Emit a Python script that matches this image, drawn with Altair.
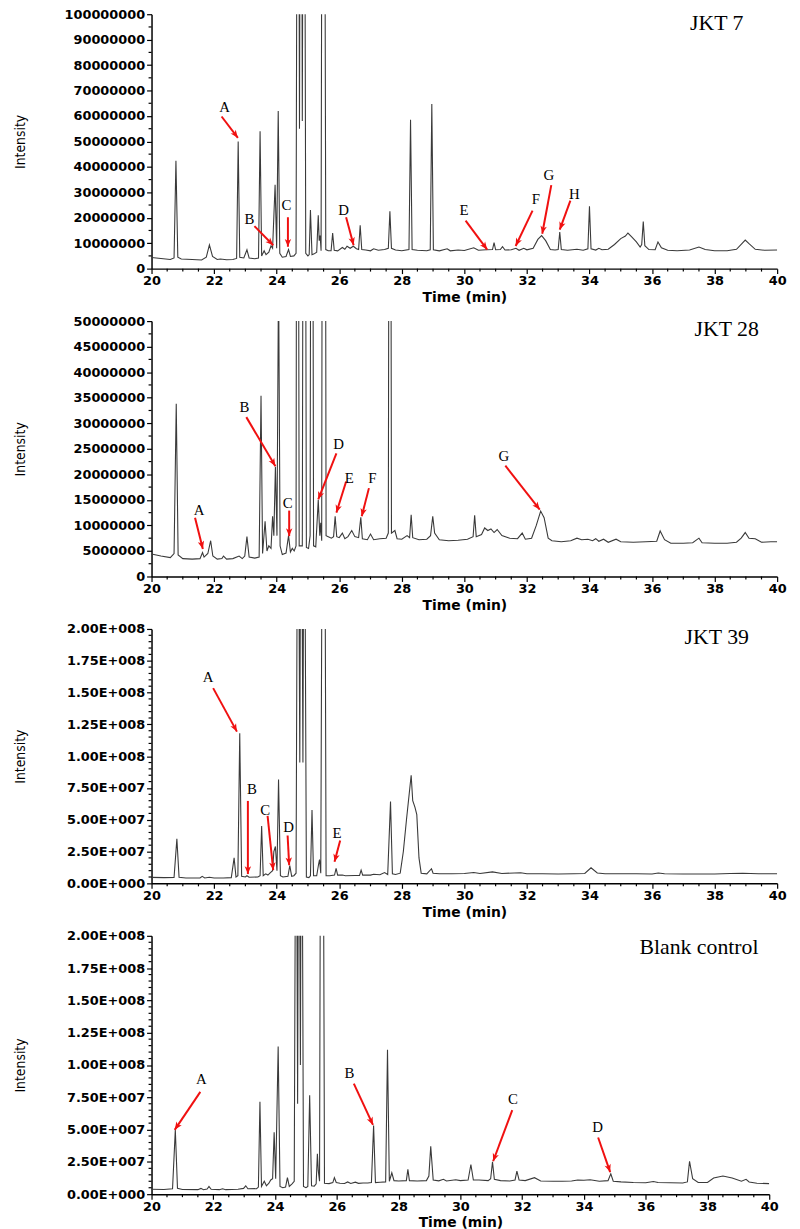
import math
import altair as alt
import pandas as pd

# ---------------- JKT 7 (intensity in millions) ----------------
T1 = [20.00, 20.30, 20.60, 20.72, 20.78, 20.84, 20.95, 21.30, 21.60, 21.75, 21.85, 21.95, 22.10, 22.20, 22.40,
      22.60, 22.72, 22.77, 22.82, 22.95, 23.05, 23.12, 23.30, 23.42, 23.47, 23.52, 23.60, 23.66, 23.75, 23.82,
      23.87, 23.95, 24.00, 24.05, 24.10, 24.18, 24.30, 24.38, 24.44, 24.55, 24.62, 24.68, 24.73, 24.78, 24.82,
      24.87, 24.93, 25.00, 25.04, 25.08, 25.13, 25.20, 25.28, 25.33, 25.36, 25.39, 25.42, 25.47, 25.52, 25.57,
      25.65, 25.74, 25.79, 25.84, 25.95, 26.10, 26.18, 26.25, 26.35, 26.45, 26.55, 26.62, 26.67, 26.72, 26.85,
      27.00, 27.10, 27.25, 27.45, 27.57, 27.62, 27.67, 27.80, 28.00, 28.23, 28.28, 28.33, 28.50, 28.80, 28.91,
      28.96, 29.01, 29.20, 29.45, 29.55, 29.80, 30.00, 30.30, 30.45, 30.70, 30.90, 30.95, 31.00, 31.15, 31.22,
      31.30, 31.50, 31.65, 31.75, 31.90, 32.00, 32.20, 32.35, 32.47, 32.60, 32.75, 32.90, 33.00, 33.05, 33.10,
      33.30, 33.60, 33.80, 33.95, 34.00, 34.05, 34.20, 34.30, 34.40, 34.60, 34.80, 35.00, 35.15, 35.23, 35.35,
      35.50, 35.62, 35.67, 35.72, 35.77, 35.90, 36.10, 36.19, 36.30, 36.50, 36.80, 37.20, 37.50, 37.70, 38.00,
      38.40, 38.70, 38.85, 38.98, 39.10, 39.30, 39.60, 40.00]
I1 = [4.4, 4.0, 3.6, 4.2, 42.4, 4.5, 3.8, 3.6, 3.4, 4.5, 9.3, 4.8, 3.6, 3.8, 3.5,
      3.6, 4.0, 50.0, 4.5, 4.2, 7.4, 4.2, 3.9, 4.2, 54.0, 5.0, 7.0, 5.5, 6.5, 9.0,
      8.0, 33.0, 8.0, 62.0, 6.0, 4.5, 4.8, 7.5, 4.8, 5.0, 6.0, 300, 55, 300, 58,
      300, 6.0, 5.0, 5.5, 23.0, 5.5, 5.8, 6.5, 21.0, 11.0, 13.0, 7.0, 300, 250, 7.5,
      7.0, 7.0, 14.0, 7.2, 7.0, 8.3, 7.6, 8.8, 8.0, 8.8, 7.8, 7.5, 17.0, 7.5, 7.3,
      7.0, 7.8, 7.2, 7.5, 8.0, 22.5, 8.0, 7.3, 7.0, 7.5, 58.5, 7.5, 7.2, 7.0, 7.4,
      64.7, 7.4, 7.0, 7.8, 7.0, 7.3, 7.1, 8.2, 7.2, 7.4, 7.5, 10.2, 7.4, 7.5, 8.6,
      7.3, 7.4, 8.0, 7.2, 8.0, 7.4, 8.0, 11.5, 13.0, 11.0, 7.5, 7.3, 7.5, 14.4, 7.5,
      7.2, 7.6, 7.2, 7.8, 24.5, 7.8, 7.3, 8.0, 7.4, 7.6, 9.5, 11.8, 12.8, 14.0, 12.5,
      10.5, 8.5, 9.5, 18.5, 9.0, 7.5, 7.4, 10.5, 8.2, 7.2, 7.0, 7.3, 8.5, 7.5, 7.0,
      7.0, 7.6, 9.5, 11.2, 9.8, 7.6, 7.2, 7.3]
L1 = ["A", "B", "C", "D", "E", "F", "G", "H"]
L1_lab_t = [22.34, 23.13, 24.31, 26.14, 29.99, 32.29, 32.70, 33.52]
L1_lab_i = [63.7, 19.6, 25.0, 23.2, 23.2, 27.4, 36.7, 29.3]
L1_tail_t = [22.24, 23.29, 24.36, 26.22, 30.04, 32.18, 32.78, 33.39]
L1_tail_i = [59.8, 16.7, 20.2, 20.2, 18.9, 22.8, 32.8, 26.7]
L1_tip_t = [22.76, 23.89, 24.36, 26.46, 30.73, 31.64, 32.49, 33.05]
L1_tip_i = [51.4, 9.2, 8.6, 9.2, 7.5, 8.9, 13.7, 15.3]

# ---------------- JKT 28 ----------------
T2 = [20.00, 20.30, 20.60, 20.72, 20.79, 20.85, 21.00, 21.30, 21.55, 21.63, 21.68, 21.80, 21.89, 21.96, 22.10,
      22.25, 22.30, 22.40, 22.60, 22.80, 22.90, 22.98, 23.05, 23.12, 23.30, 23.44, 23.50, 23.55, 23.63, 23.69,
      23.75, 23.82, 23.87, 23.91, 23.96, 24.01, 24.06, 24.11, 24.18, 24.30, 24.38, 24.44, 24.50, 24.56, 24.62,
      24.66, 24.72, 24.82, 24.88, 24.95, 25.02, 25.07, 25.12, 25.18, 25.25, 25.33, 25.38, 25.41, 25.44, 25.48,
      25.53, 25.58, 25.65, 25.75, 25.82, 25.87, 25.92, 26.00, 26.10, 26.18, 26.28, 26.40, 26.50, 26.62, 26.69,
      26.74, 26.90, 27.00, 27.10, 27.30, 27.50, 27.57, 27.62, 27.67, 27.78, 27.85, 28.00, 28.17, 28.25, 28.30,
      28.35, 28.55, 28.80, 28.92, 28.99, 29.05, 29.20, 29.50, 29.80, 30.10, 30.28, 30.33, 30.38, 30.55, 30.65,
      30.75, 30.85, 30.95, 31.05, 31.20, 31.45, 31.70, 31.85, 31.95, 32.15, 32.30, 32.44, 32.55, 32.68, 32.80,
      33.10, 33.40, 33.60, 33.75, 33.95, 34.10, 34.20, 34.30, 34.45, 34.60, 34.85, 35.00, 35.40, 35.80, 36.15,
      36.26, 36.40, 36.60, 37.00, 37.30, 37.50, 37.60, 38.00, 38.40, 38.70, 38.85, 38.98, 39.10, 39.30, 39.50,
      39.80, 40.00]
I2 = [4.4, 4.0, 3.7, 4.5, 33.8, 4.2, 3.5, 3.4, 3.5, 4.7, 3.8, 4.5, 7.0, 4.0, 3.4,
      3.5, 4.0, 3.4, 3.5, 4.0, 3.5, 4.0, 7.8, 3.8, 3.6, 3.8, 35.4, 4.5, 10.8, 5.0,
      6.0, 5.5, 11.8, 8.0, 21.5, 8.0, 60.0, 6.0, 4.3, 4.6, 8.0, 4.8, 5.5, 5.0, 6.0,
      200, 6.0, 6.0, 200, 5.7, 5.5, 8.0, 200, 6.0, 5.8, 15.0, 8.0, 10.5, 7.0, 200,
      200, 8.0, 7.8, 7.5, 7.8, 11.8, 7.8, 7.6, 8.5, 7.4, 7.8, 9.0, 7.8, 7.6, 11.6,
      7.4, 7.2, 8.3, 7.2, 7.4, 7.5, 8.5, 200, 8.5, 9.0, 7.4, 7.3, 8.0, 7.6, 12.1,
      7.6, 7.2, 7.3, 8.0, 11.8, 8.5, 7.2, 7.0, 7.1, 7.3, 7.8, 12.0, 7.8, 8.2, 9.5,
      9.0, 9.3, 8.6, 9.2, 8.0, 7.5, 7.4, 8.5, 7.3, 7.5, 10.0, 12.8, 11.5, 7.5, 7.0,
      6.8, 7.0, 7.5, 7.2, 7.3, 7.0, 7.4, 6.9, 7.3, 6.7, 7.3, 6.8, 6.7, 6.8, 6.9,
      8.9, 7.2, 6.5, 6.5, 6.6, 7.5, 6.6, 6.5, 6.5, 6.7, 7.5, 8.6, 7.5, 7.4, 6.7,
      6.8, 6.8]
L2 = ["A", "B", "C", "D", "E", "F", "G"]
L2_lab_t = [21.52, 22.97, 24.35, 25.98, 26.32, 27.06, 31.26]
L2_lab_i = [13.1, 33.1, 14.4, 26.0, 19.2, 19.2, 23.6]
L2_tail_t = [21.39, 23.03, 24.40, 25.91, 26.22, 26.95, 31.31]
L2_tail_i = [11.5, 31.2, 12.9, 24.1, 18.6, 17.3, 21.7]
L2_tip_t = [21.64, 23.96, 24.40, 25.33, 25.91, 26.72, 32.41]
L2_tip_i = [5.4, 21.6, 7.9, 15.1, 12.5, 11.8, 13.1]

# ---------------- JKT 39 ----------------
T3 = [20.00, 20.40, 20.72, 20.81, 20.88, 21.10, 21.55, 21.62, 21.70, 21.85, 22.00, 22.30, 22.55, 22.64, 22.70,
      22.76, 22.82, 22.88, 23.00, 23.05, 23.12, 23.40, 23.47, 23.52, 23.57, 23.65, 23.72, 23.80, 23.87, 23.91,
      23.96, 24.01, 24.06, 24.12, 24.20, 24.36, 24.42, 24.48, 24.55, 24.62, 24.68, 24.74, 24.78, 24.84, 24.88,
      24.95, 25.03, 25.08, 25.13, 25.18, 25.28, 25.34, 25.37, 25.41, 25.47, 25.53, 25.58, 25.70, 25.85, 25.90,
      25.95, 26.10, 26.20, 26.50, 26.65, 26.70, 26.75, 27.00, 27.10, 27.30, 27.45, 27.55, 27.64, 27.70, 27.80,
      27.95, 28.05, 28.15, 28.30, 28.35, 28.42, 28.48, 28.55, 28.62, 28.80, 28.95, 29.00, 29.20, 29.60, 30.00,
      30.30, 30.50, 30.90, 31.20, 31.80, 32.00, 32.50, 33.00, 33.50, 33.85, 34.05, 34.25, 34.50, 35.00, 35.50,
      36.00, 36.20, 36.40, 37.00, 37.50, 38.00, 38.50, 38.90, 39.40, 40.00]
I3 = [4.7, 4.5, 4.6, 35.0, 4.8, 4.2, 4.2, 5.5, 4.2, 4.8, 4.2, 4.2, 4.5, 20.0, 5.0,
      6.0, 118.0, 5.5, 5.0, 6.0, 4.8, 5.0, 6.0, 45.0, 6.0, 7.5, 6.5, 8.5, 10.0, 25.0,
      29.0, 10.0, 81.7, 6.0, 5.0, 5.5, 14.0, 5.5, 6.0, 8.0, 400, 95, 400, 95, 400,
      5.0, 4.5, 6.0, 57.6, 6.0, 6.0, 15.0, 18.7, 8.0, 400, 400, 6.0, 6.0, 6.5, 11.7,
      6.5, 6.5, 6.0, 6.2, 6.3, 10.4, 6.5, 6.5, 7.2, 6.8, 8.5, 7.0, 64.3, 7.5, 7.0,
      8.0, 25.0, 50.0, 85.0, 65.0, 60.0, 54.0, 20.0, 8.0, 7.5, 11.5, 8.0, 7.5, 7.6, 7.8,
      8.5, 7.8, 9.0, 7.8, 8.3, 7.6, 7.5, 7.4, 7.6, 7.8, 12.2, 8.2, 7.6, 7.5, 7.5,
      7.4, 8.2, 7.5, 7.4, 7.3, 7.4, 7.8, 8.0, 7.6, 7.5]
L3 = ["A", "B", "C", "D", "E"]
L3_lab_t = [21.81, 23.21, 23.63, 24.38, 25.93]
L3_lab_i = [162.0, 73.9, 57.6, 44.1, 39.4]
L3_tail_t = [21.97, 23.08, 23.71, 24.35, 26.03]
L3_tail_i = [153.5, 64.8, 53.1, 37.6, 33.7]
L3_tip_t = [22.73, 23.08, 23.89, 24.40, 25.85]
L3_tip_i = [119.3, 7.3, 10.4, 14.2, 16.9]

# ---------------- Blank control ----------------
T4 = [20.00, 20.40, 20.68, 20.77, 20.84, 21.00, 21.50, 21.60, 21.68, 21.80, 21.86, 21.93, 22.20, 22.30, 22.40,
      22.80, 22.98, 23.05, 23.12, 23.40, 23.46, 23.51, 23.56, 23.65, 23.72, 23.80, 23.86, 23.92, 23.97, 24.02,
      24.10, 24.16, 24.25, 24.34, 24.40, 24.46, 24.55, 24.62, 24.68, 24.73, 24.77, 24.82, 24.86, 24.92, 25.00,
      25.06, 25.12, 25.18, 25.27, 25.33, 25.37, 25.40, 25.44, 25.48, 25.55, 25.60, 25.75, 25.87, 25.92, 25.98,
      26.10, 26.25, 26.35, 26.45, 26.60, 26.70, 26.85, 27.00, 27.12, 27.19, 27.25, 27.40, 27.58, 27.64, 27.70,
      27.78, 27.85, 28.00, 28.25, 28.30, 28.35, 28.60, 28.90, 28.98, 29.04, 29.12, 29.30, 29.45, 29.55, 29.85,
      30.00, 30.25, 30.34, 30.42, 30.60, 30.90, 30.98, 31.04, 31.10, 31.30, 31.60, 31.77, 31.83, 31.90, 32.10,
      32.40, 32.60, 33.00, 33.30, 33.60, 33.80, 34.00, 34.20, 34.50, 34.78, 34.87, 34.95, 35.20, 35.60, 36.00,
      36.25, 36.40, 36.80, 37.20, 37.35, 37.42, 37.52, 37.70, 38.00, 38.20, 38.50, 38.80, 39.10, 39.25, 39.35,
      39.60, 40.00]
I4 = [3.8, 3.6, 4.2, 49.8, 4.5, 3.6, 3.5, 4.5, 3.5, 4.0, 6.0, 3.8, 3.5, 4.2, 3.5,
      3.8, 4.5, 6.5, 4.2, 4.3, 5.5, 71.5, 6.0, 10.0, 6.5, 8.5, 11.0, 12.0, 48.0, 12.0,
      114.4, 6.0, 5.0, 5.5, 12.8, 6.0, 8.0, 10.0, 400, 70, 400, 100, 400, 6.0, 5.0,
      6.0, 76.6, 6.5, 6.2, 8.0, 31.2, 18.0, 10.0, 400, 400, 8.5, 8.2, 9.0, 12.8, 9.0,
      8.5, 8.3, 9.5, 8.3, 9.3, 8.4, 8.6, 8.7, 9.0, 53.1, 9.0, 9.2, 9.5, 111.9, 10.0,
      16.6, 10.5, 10.2, 10.5, 19.2, 10.5, 10.2, 10.5, 14.0, 37.0, 11.0, 10.3, 11.5, 10.2, 11.2,
      10.5, 11.0, 23.0, 11.0, 11.0, 10.5, 12.0, 25.0, 11.5, 10.5, 10.2, 11.0, 17.9, 11.0, 10.5,
      12.8, 10.2, 10.0, 10.0, 10.2, 11.0, 10.8, 11.2, 10.0, 10.5, 15.8, 10.0, 9.5, 9.0, 8.8,
      9.8, 9.0, 8.8, 8.6, 9.5, 25.5, 12.0, 9.0, 9.0, 12.5, 14.1, 12.5, 10.0, 11.5, 9.5,
      8.5, 8.2]
L4 = ["A", "B", "C", "D"]
L4_lab_t = [21.61, 26.41, 31.70, 34.44]
L4_lab_i = [88.9, 94.0, 73.6, 51.6]
L4_tail_t = [21.58, 26.55, 31.68, 34.46]
L4_tail_i = [79.2, 85.6, 65.1, 43.9]
L4_tip_t = [20.75, 27.17, 31.06, 34.85]
L4_tip_i = [49.8, 53.6, 25.5, 17.1]

# axis tick values
X_MAJOR = [20, 22, 24, 26, 28, 30, 32, 34, 36, 38, 40]
Y1_MAJOR = [0, 10000000, 20000000, 30000000, 40000000, 50000000, 60000000, 70000000, 80000000, 90000000, 100000000]
Y2_MAJOR = [0, 5000000, 10000000, 15000000, 20000000, 25000000, 30000000, 35000000, 40000000, 45000000, 50000000]
Y3_MAJOR = [0, 25000000, 50000000, 75000000, 100000000, 125000000, 150000000, 175000000, 200000000]

MILLION = 1e6
RED = "#f01010"
LINE = "#3a3a3a"
HEAD = "M0,0L-0.62,1.5L0,1.1L0.62,1.5Z"


def panel(T, I, L, lab_t, lab_i, tail_t, tail_i, tip_t, tip_i, ymajor, minor_div, sci,
          name, name_px, width, height, title_x):
    ymax = ymajor[-1]
    ystep = ymajor[1] / minor_div
    df = pd.DataFrame({"t": T, "v": [v * MILLION for v in I]})
    angs = []
    for a, b, c, d in zip(tail_t, tail_i, tip_t, tip_i):
        dx = (c - a) * width / 20.0
        dy = -(d - b) * MILLION * height / ymax
        angs.append(math.degrees(math.atan2(dx, -dy)) % 360)
    ann = pd.DataFrame({
        "letter": L,
        "lt": lab_t, "li": [v * MILLION for v in lab_i],
        "at": tail_t, "ai": [v * MILLION for v in tail_i],
        "bt": tip_t, "bi": [v * MILLION for v in tip_i],
        "ang": angs,
    })
    xminor = pd.DataFrame({"t": [20 + 0.5 * k for k in range(41) if k % 4 != 0]})
    nmin = int(round(ymax / ystep))
    yminor = pd.DataFrame({"v": [ystep * k for k in range(nmin + 1) if k % minor_div != 0]})
    if sci:
        ylab = ("slice(format(datum.value, '.2e'), 0, 4) + 'E+' + "
                "pad(slice(format(datum.value, '.2e'), 6), 3, '0', 'left')")
    else:
        ylab = "format(datum.value, 'd')"
    xs = alt.Scale(domain=[20, 40], nice=False, zero=False)
    ys = alt.Scale(domain=[0, ymax], nice=False, zero=False)
    xaxis = alt.Axis(
        values=X_MAJOR, title="Time (min)", grid=False, format="d", tickSize=5,
        labelFont="DejaVu Sans", labelFontWeight="bold", labelFontSize=13, labelColor="black",
        labelPadding=1, labelFlush=False, labelOverlap=False,
        titleFont="DejaVu Sans", titleFontWeight="bold", titleFontSize=14, titleColor="black",
        titlePadding=3, domainColor="black", domainWidth=1.5, tickColor="black", tickWidth=1.2,
    )
    yaxis = alt.Axis(
        values=ymajor, title="Intensity", grid=False, labelExpr=ylab, tickSize=5,
        labelFont="DejaVu Sans", labelFontWeight="bold", labelFontSize=13, labelColor="black",
        labelPadding=2, labelFlush=False, labelOverlap=False,
        titleFont="Liberation Sans Narrow, Arial Narrow, DejaVu Sans Condensed, sans-serif",
        titleFontWeight="normal", titleFontSize=14, titleColor="black", titleX=title_x,
        domainColor="black", domainWidth=1.5, tickColor="black", tickWidth=1.2,
    )
    X = alt.X("t:Q", scale=xs, axis=xaxis, title="Time (min)")
    Y = alt.Y("v:Q", scale=ys, axis=yaxis, title="Intensity")
    line = alt.Chart(df).mark_line(clip=True, color=LINE, strokeWidth=1.1).encode(x=X, y=Y)
    xmin_ticks = alt.Chart(xminor).mark_rule(color="black", strokeWidth=1.2).encode(
        x=X, y=alt.value(height), y2=alt.value(height + 3)
    )
    ymin_ticks = alt.Chart(yminor).mark_rule(color="black", strokeWidth=1.2).encode(
        y=Y, x=alt.value(-3), x2=alt.value(0)
    )
    base = alt.Chart(ann)
    shafts = base.mark_rule(color=RED, strokeWidth=2).encode(
        x=alt.X("at:Q", scale=xs, axis=xaxis, title="Time (min)"),
        y=alt.Y("ai:Q", scale=ys, axis=yaxis, title="Intensity"),
        x2="bt:Q", y2="bi:Q"
    )
    heads = base.mark_point(shape=HEAD, filled=True, size=110, color=RED, opacity=1, strokeWidth=0).encode(
        x=alt.X("bt:Q", scale=xs, axis=xaxis, title="Time (min)"),
        y=alt.Y("bi:Q", scale=ys, axis=yaxis, title="Intensity"),
        angle=alt.Angle("ang:Q", scale=None)
    )
    letters = base.mark_text(font="Liberation Serif", fontSize=15, color="black", baseline="middle").encode(
        x=alt.X("lt:Q", scale=xs, axis=xaxis, title="Time (min)"),
        y=alt.Y("li:Q", scale=ys, axis=yaxis, title="Intensity"),
        text="letter:N"
    )
    title = alt.Chart(pd.DataFrame({"name": [name]})).mark_text(
        font="Liberation Serif", fontSize=22, color="black", baseline="middle", align="center"
    ).encode(x=alt.value(name_px[0]), y=alt.value(name_px[1]), text="name:N")
    return alt.layer(line, xmin_ticks, ymin_ticks, shafts, heads, letters, title).properties(
        width=width, height=height)


p1 = panel(T1, I1, L1, L1_lab_t, L1_lab_i, L1_tail_t, L1_tail_i, L1_tip_t, L1_tip_i,
           Y1_MAJOR, 2, False, "JKT 7", (571, 9), 632, 257, -125)
p2 = panel(T2, I2, L2, L2_lab_t, L2_lab_i, L2_tail_t, L2_tail_i, L2_tip_t, L2_tip_i,
           Y2_MAJOR, 2, False, "JKT 28", (581, 8), 632, 258, -125)
p3 = panel(T3, I3, L3, L3_lab_t, L3_lab_i, L3_tail_t, L3_tail_i, L3_tip_t, L3_tip_i,
           Y3_MAJOR, 5, True, "JKT 39", (571, 8), 632, 257, -125)
p4 = panel(T4, I4, L4, L4_lab_t, L4_lab_i, L4_tail_t, L4_tail_i, L4_tip_t, L4_tip_i,
           Y3_MAJOR, 5, True, "Blank control", (553, 11), 624, 261, -125)

chart = alt.vconcat(p1, p2, p3, p4, spacing=11).properties(
    padding={"left": 6, "top": -6, "right": 5, "bottom": 5},
    background="white",
).configure_view(strokeWidth=0)

chart.save("out.html", embed_options={"renderer": "svg", "actions": False})
